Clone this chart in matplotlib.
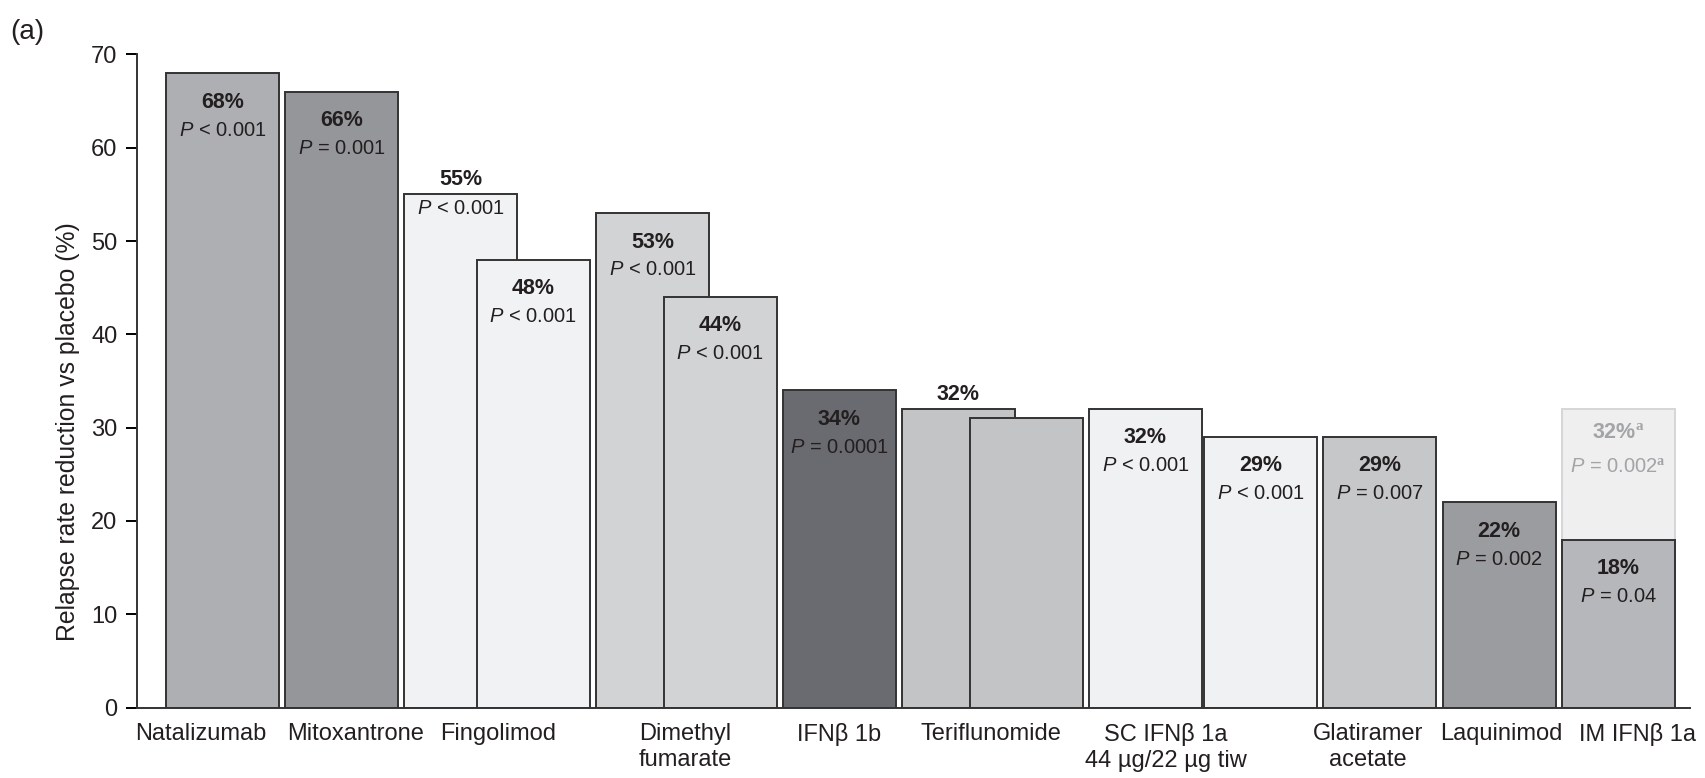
import matplotlib
matplotlib.use("Agg")
import matplotlib.pyplot as plt
from matplotlib import rcParams

rcParams['font.family'] = ['Liberation Sans', 'DejaVu Sans']
rcParams['mathtext.fontset'] = 'custom'
rcParams['mathtext.it'] = 'Liberation Sans:italic'
rcParams['mathtext.rm'] = 'Liberation Serif'
rcParams['mathtext.bf'] = 'Liberation Serif:bold'

# drugs along the x axis (one or two trials each)
drugs = ["Natalizumab", "Mitoxantrone", "Fingolimod", "Dimethyl\nfumarate", "IFN\u03b2 1b",
         "Teriflunomide", "SC IFN\u03b2 1a\n44 \u00b5g/22 \u00b5g tiw", "Glatiramer\nacetate",
         "Laquinimod", "IM IFN\u03b2 1a"]

# one entry per trial bar
trial_drug = [0, 1, 2, 2, 3, 3, 4, 5, 5, 6, 6, 7, 8, 9]
reduction = [68, 66, 55, 48, 53, 44, 34, 32, 31, 32, 29, 29, 22, 18]
pct_text = ["68%", "66%", "55%", "48%", "53%", "44%", "34%", "32%", "", "32%", "29%", "29%", "22%", "18%"]
p_text = ["< 0.001", "= 0.001", "< 0.001", "< 0.001", "< 0.001", "< 0.001", "= 0.0001", "", "",
          "< 0.001", "< 0.001", "= 0.007", "= 0.002", "= 0.04"]

# second IM IFNb 1a estimate shown faded behind the main bar
im_alt_reduction = 32
im_alt_pct = "32%"
im_alt_p = "= 0.002"

# layout: bar centres (bar width = 1)
bar_x = [0.0, 1.055, 2.11, 2.75, 3.805, 4.405, 5.46, 6.515, 7.115, 8.17, 9.19, 10.245, 11.30, 12.355]
label_x = [-0.19, 1.18, 2.44, 4.10, 5.46, 6.80, 8.35, 10.14, 11.32, 12.53]
colors = ["#aeafb3", "#95969a", "#f1f2f4", "#f1f2f4", "#d2d3d5", "#d2d3d5", "#6a6b70",
          "#c3c4c6", "#c3c4c6", "#f0f1f3", "#f0f1f3", "#c6c7c9", "#9b9c9f", "#b6b7ba"]
# label above bar top instead of inside
above = [False, False, True, False, False, False, False, True, False, False, False, False, False, False]

ink = "#231f20"

fig = plt.figure(figsize=(17.06, 7.78), dpi=100)
ax = fig.add_axes([0.0803, 0.0905, 0.9103, 0.8395])

im_x = bar_x[-1]
ax.bar(im_x, im_alt_reduction, width=1.0, color="#efeff0", edgecolor="#d6d6d8", linewidth=1.4, zorder=1)
ax.text(im_x, im_alt_reduction - 2.6, im_alt_pct + r"$^{\mathbf{a}}$", ha="center", va="center",
        fontsize=15.5, fontweight="bold", color="#a3a4a7", zorder=5)
ax.text(im_x, im_alt_reduction - 6.3, r"$P$ " + im_alt_p + r"$^{\mathbf{a}}$", ha="center", va="center",
        fontsize=14.5, color="#a3a4a7", zorder=5)

for i, (x, v) in enumerate(zip(bar_x, reduction)):
    ax.bar(x, v, width=1.0, color=colors[i], edgecolor="#333333", linewidth=1.4, zorder=2 + i * 0.01)
    if above[i]:
        y_pct, y_p = v + 1.6, v - 1.5
    else:
        y_pct, y_p = v - 3.1, v - 6.1
    if pct_text[i]:
        ax.text(x, y_pct, pct_text[i], ha="center", va="center", fontsize=15.5,
                fontweight="bold", color=ink, zorder=5)
    if p_text[i]:
        ax.text(x, y_p, r"$P$ " + p_text[i], ha="center", va="center", fontsize=14.5,
                color=ink, zorder=5)

ax.set_xlim(-0.757, 12.99)
ax.set_ylim(0, 70)
ax.set_yticks(range(0, 71, 10))
ax.set_xticks(label_x)
ax.set_xticklabels(drugs, fontsize=17, color=ink, linespacing=1.25)
ax.tick_params(axis="x", length=0, pad=11)
ax.tick_params(axis="y", length=8, width=1.4, labelsize=17, labelcolor=ink, pad=6)
ax.set_ylabel("Relapse rate reduction vs placebo (%)", fontsize=17.8, color=ink)
ax.yaxis.set_label_coords(-0.037, 0.422)

for side in ("top", "right"):
    ax.spines[side].set_visible(False)
for side in ("left", "bottom"):
    ax.spines[side].set_linewidth(1.4)
    ax.spines[side].set_color("#333333")

fig.text(0.006, 0.975, "(a)", fontsize=20, color=ink, va="top", ha="left")

fig.savefig("out.png", dpi=100)
